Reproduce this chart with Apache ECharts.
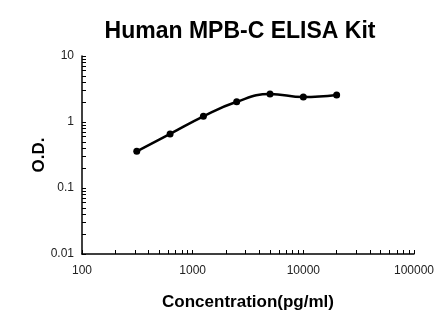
<!DOCTYPE html>
<html>
<head>
<meta charset="utf-8">
<script src="https://cdn.jsdelivr.net/npm/echarts@6/dist/echarts.min.js"></script>
<style>
  html, body { margin: 0; padding: 0; background: #fff; }
  #chart { width: 446px; height: 326px; }
</style>
</head>
<body>
<div id="chart"></div>
<script>
// Standard curve: concentration (pg/ml) vs optical density
const concentrations = [312.5, 625, 1250, 2500, 5000, 10000, 20000];
const odValues = [0.36, 0.66, 1.22, 2.03, 2.66, 2.39, 2.57];

// Axis tick labels
const xTickLabels = [100, 1000, 10000, 100000];
const yTickLabels = [0.01, 0.1, 1, 10];

// Tick marks at 1..9 x each decade
function decadeTicks(lo, hi) {
  const out = [];
  for (let d = lo; d < hi; d *= 10) {
    for (let k = 1; k < 10; k++) out.push(+(d * k).toPrecision(6));
  }
  out.push(hi);
  return out;
}
const xTicks = decadeTicks(100, 100000);
const yTicks = decadeTicks(0.01, 10);

const chart = echarts.init(document.getElementById('chart'), null, { renderer: 'canvas' });
const fontFamily = 'Liberation Sans, Arial, sans-serif';

chart.setOption({
  animation: false,
  backgroundColor: '#ffffff',
  title: {
    text: 'Human MPB-C ELISA Kit',
    left: 235,
    top: 15,
    textAlign: 'center',
    textStyle: { fontFamily, fontSize: 23, fontWeight: 'bold', color: '#000' }
  },
  grid: { left: 82, right: 32, top: 56, bottom: 72, containLabel: false },
  xAxis: {
    type: 'log',
    logBase: 10,
    min: 100,
    max: 100000,
    name: 'Concentration(pg/ml)',
    nameLocation: 'middle',
    nameGap: 40,
    nameMoveOverlap: false,
    nameTextStyle: { fontFamily, fontSize: 17, fontWeight: 'bold', color: '#000' },
    axisLine: { show: true, lineStyle: { color: '#000', width: 1.5 } },
    axisTick: { show: true, inside: true, length: 4, customValues: xTicks, lineStyle: { color: '#000', width: 1 } },
    axisLabel: {
      customValues: xTickLabels,
      fontFamily, fontSize: 12, color: '#222', margin: 11,
      formatter: v => String(Math.round(v))
    },
    splitLine: { show: false }
  },
  yAxis: {
    type: 'log',
    logBase: 10,
    min: 0.01,
    max: 10,
    name: 'O.D.',
    nameLocation: 'middle',
    nameGap: 34,
    nameMoveOverlap: false,
    nameRotate: 90,
    nameTextStyle: { fontFamily, fontSize: 17, fontWeight: 'bold', color: '#000' },
    axisLine: { show: true, lineStyle: { color: '#000', width: 1.5 } },
    axisTick: { show: true, inside: true, length: 4, customValues: yTicks, lineStyle: { color: '#000', width: 1 } },
    axisLabel: {
      customValues: yTickLabels,
      fontFamily, fontSize: 12, color: '#222', margin: 8,
      formatter: v => (v >= 1 ? String(Math.round(v)) : String(+v.toPrecision(2)))
    },
    splitLine: { show: false }
  },
  series: [{
    type: 'line',
    data: concentrations.map((c, i) => [c, odValues[i]]),
    smooth: 0.45,
    symbol: 'circle',
    symbolSize: 7,
    showSymbol: true,
    lineStyle: { color: '#000', width: 2.5 },
    itemStyle: { color: '#000' }
  }]
});
</script>
</body>
</html>
